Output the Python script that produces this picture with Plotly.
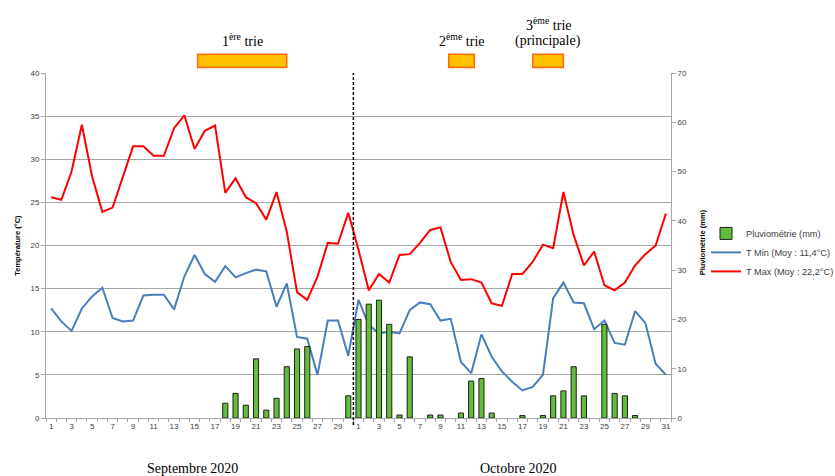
import plotly.graph_objects as go

# Daily weather record, September and October 2020
sept_days = list(range(1, 31))
oct_days = list(range(1, 32))

tmax_sept = [25.6, 25.3, 28.6, 34.0, 28.0, 23.9, 24.4, 28.0, 31.5, 31.5,
             30.4, 30.4, 33.6, 35.1, 31.2, 33.3, 33.9, 26.1, 27.8, 25.6,
             24.9, 23.0, 26.2, 21.6, 14.6, 13.7, 16.4, 20.3, 20.2, 23.8]
tmax_oct = [19.5, 14.8, 16.7, 15.7, 18.9, 19.0, 20.3, 21.8, 22.1, 18.1,
            16.0, 16.1, 15.7, 13.3, 13.0, 16.7, 16.7, 18.1, 20.1, 19.7,
            26.2, 21.2, 17.7, 19.3, 15.4, 14.8, 15.7, 17.7, 19.0, 20.0, 23.7]

tmin_sept = [12.7, 11.2, 10.1, 12.7, 14.1, 15.1, 11.6, 11.2, 11.3, 14.2,
             14.3, 14.3, 12.6, 16.4, 18.9, 16.7, 15.8, 17.6, 16.3, 16.8,
             17.2, 17.0, 12.9, 15.6, 9.4, 9.2, 5.0, 11.3, 11.3, 7.2]
tmin_oct = [13.7, 10.8, 9.8, 10.0, 9.8, 12.5, 13.4, 13.2, 11.3, 11.5,
            6.5, 5.2, 9.7, 7.1, 5.4, 4.2, 3.2, 3.6, 5.0, 13.9,
            15.7, 13.4, 13.3, 10.3, 11.3, 8.7, 8.5, 12.4, 11.0, 6.3, 5.0]

rain_sept = [0, 0, 0, 0, 0, 0, 0, 0, 0, 0,
             0, 0, 0, 0, 0, 0, 0, 3.0, 5.0, 2.6,
             12.0, 1.6, 4.0, 10.4, 14.0, 14.5, 0, 0, 0, 4.5]
rain_oct = [20.0, 23.1, 23.9, 19.0, 0.6, 12.4, 0, 0.6, 0.6, 0,
            1.0, 7.5, 8.0, 1.0, 0, 0, 0.5, 0, 0.5, 4.5,
            5.5, 10.4, 4.5, 0, 19.0, 5.0, 4.5, 0.5, 0, 0, 0]

series_names = ["Pluviométrie (mm)", "T Min (Moy : 11,4°C)", "T Max (Moy : 22,2°C)"]
month_labels = ["Septembre 2020", "Octobre 2020"]

# Sorting periods: (label lines, first position, last position) on the day index axis
sort_periods = [
    (["1<sup>ère</sup> trie"], 14.3, 23.0),
    (["2<sup>ème</sup> trie"], 38.8, 41.3),
    (["3<sup>ème</sup> trie", "(principale)"], 47.0, 50.0),
]

day_labels = [str(d) for d in sept_days + oct_days]
tmax = tmax_sept + tmax_oct
tmin = tmin_sept + tmin_oct
rain = rain_sept + rain_oct
# dry days get no bar at all
rain_bars = [r if r > 0 else None for r in rain]
idx = list(range(len(day_labels)))

TICK_FONT = dict(family="Liberation Sans", size=8, color="#404040")
SERIF = "Liberation Serif"

fig = go.Figure()

fig.add_trace(go.Bar(
    x=idx, y=rain_bars, name=series_names[0], yaxis="y2", width=0.5,
    marker=dict(color="#62BE3A", line=dict(color="#1E1E1E", width=1)),
))
fig.add_trace(go.Scatter(
    x=idx, y=tmin, name=series_names[1], mode="lines",
    line=dict(color="#4A7EBB", width=2),
))
fig.add_trace(go.Scatter(
    x=idx, y=tmax, name=series_names[2], mode="lines",
    line=dict(color="#FF0000", width=2),
))

tickvals = [i for i in idx if i % 2 == 0]
fig.update_layout(
    width=835, height=476,
    margin=dict(l=46, r=164, t=73, b=58, autoexpand=False),
    paper_bgcolor="white", plot_bgcolor="white",
    xaxis=dict(
        range=[-0.5, len(idx) - 0.5],
        tickmode="array", tickvals=tickvals,
        ticktext=[day_labels[i] for i in tickvals],
        tickfont=TICK_FONT, ticks="", showgrid=False,
        showline=True, linecolor="#A6A6A6", linewidth=1,
        minor=dict(ticks="outside", tick0=-0.5, dtick=1, ticklen=3,
                   tickcolor="#A6A6A6", showgrid=False),
        zeroline=False,
    ),
    yaxis=dict(
        range=[0, 40], dtick=5, tickfont=TICK_FONT,
        showgrid=True, gridcolor="#A6A6A6", gridwidth=1,
        showline=True, linecolor="#A6A6A6", ticks="outside", ticklen=4,
        tickcolor="#A6A6A6", zeroline=False,
    ),
    yaxis2=dict(
        range=[0, 70], dtick=10, tickfont=TICK_FONT, overlaying="y",
        side="right", showgrid=False, showline=True, linecolor="#A6A6A6",
        ticks="outside", ticklen=4, tickcolor="#A6A6A6", zeroline=False,
    ),
    legend=dict(
        x=1.056, y=0.48, xanchor="left", yanchor="middle",
        font=dict(family="Liberation Sans", size=9.2, color="#404040"),
        itemwidth=30, tracegroupgap=0, bgcolor="rgba(0,0,0,0)",
    ),
    showlegend=True,
)

annotations = [
    dict(text="<b>Température (°C)</b>", textangle=-90, xref="paper", yref="paper",
         x=-0.046, y=0.5, xanchor="center", yanchor="middle", showarrow=False,
         font=dict(family="Liberation Sans", size=7.5, color="#000000")),
    dict(text="<b>Pluviométrie (mm)</b>", textangle=-90, xref="paper", yref="paper",
         x=1.05, y=0.51, xanchor="center", yanchor="middle", showarrow=False,
         font=dict(family="Liberation Sans", size=7.5, color="#000000")),
    dict(text=month_labels[0], xref="x", yref="paper", x=13.8, y=-0.145,
         xanchor="center", yanchor="middle",
         showarrow=False, font=dict(family=SERIF, size=14, color="#000000")),
    dict(text=month_labels[1], xref="x", yref="paper", x=45.6, y=-0.145,
         xanchor="center", yanchor="middle",
         showarrow=False, font=dict(family=SERIF, size=14, color="#000000")),
]

shapes = [
    dict(type="line", xref="x", yref="paper", x0=29.5, x1=29.5, y0=-0.02, y1=1.0,
         line=dict(color="#000000", width=1.5, dash="3px,2px")),
]

for lines, x0, x1 in sort_periods:
    shapes.append(dict(type="rect", xref="x", yref="paper", x0=x0, x1=x1,
                       y0=1.016, y1=1.054, fillcolor="#FFC000",
                       line=dict(color="#FF6A10", width=1.5)))
    # stack the label lines upward from just above the box
    for k, line in enumerate(reversed(lines)):
        annotations.append(dict(text=line, xref="x", yref="paper", x=(x0 + x1) / 2,
                                y=1.064 + k * 0.047, yanchor="bottom", showarrow=False,
                                font=dict(family=SERIF, size=14, color="#000000")))

fig.update_layout(annotations=annotations, shapes=shapes)

fig.write_html("out.html")
